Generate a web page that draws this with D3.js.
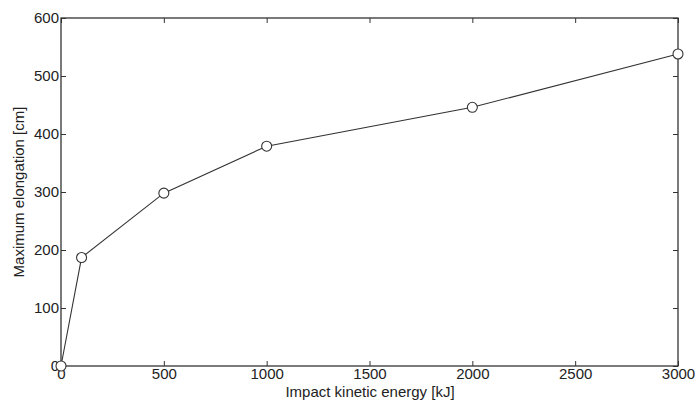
<!DOCTYPE html>
<html><head><meta charset="utf-8">
<script src="https://cdn.jsdelivr.net/npm/d3@7"></script>
<style>body{margin:0;background:#fff}svg{display:block}text{font-family:"Liberation Sans",Arial,sans-serif}</style>
</head><body><svg id="c" width="695" height="401"></svg>
<script>
const energy = [0, 100, 500, 1000, 2000, 3000];
const elongation = [0, 187, 298, 379, 446, 538];
const xTicks = [0, 500, 1000, 1500, 2000, 2500, 3000];
const yTicks = [0, 100, 200, 300, 400, 500, 600];
const xLabel = "Impact kinetic energy [kJ]";
const yLabel = "Maximum elongation [cm]";

const svg = d3.select("#c");
const L = 61, R = 678, T = 18, B = 366;
const x = d3.scaleLinear().domain([0, 3000]).range([L, R]);
const y = d3.scaleLinear().domain([0, 600]).range([B, T]);
const col = "#333";
const fs = 15;

svg.append("g").attr("transform", `translate(0,${B})`)
  .call(d3.axisBottom(x).tickValues(xTicks).tickFormat(d3.format("d")).tickSizeInner(-5).tickSizeOuter(0).tickPadding(2))
  .call(g => { g.select(".domain").remove(); g.selectAll("line").attr("stroke", col);
    g.selectAll("text").attr("font-size", fs).attr("fill", "#222"); });
svg.append("g").attr("transform", `translate(0,${T})`)
  .call(d3.axisTop(x).tickValues(xTicks).tickSizeInner(-5).tickSizeOuter(0).tickFormat(""))
  .call(g => { g.select(".domain").remove(); g.selectAll("line").attr("stroke", col); });
svg.append("g").attr("transform", `translate(${L},0)`)
  .call(d3.axisLeft(y).tickValues(yTicks).tickFormat(d3.format("d")).tickSizeInner(-5).tickSizeOuter(0).tickPadding(2))
  .call(g => { g.select(".domain").remove(); g.selectAll("line").attr("stroke", col);
    g.selectAll("text").attr("font-size", fs).attr("fill", "#222"); });
svg.append("g").attr("transform", `translate(${R},0)`)
  .call(d3.axisRight(y).tickValues(yTicks).tickSizeInner(-5).tickSizeOuter(0).tickFormat(""))
  .call(g => { g.select(".domain").remove(); g.selectAll("line").attr("stroke", col); });

svg.append("rect").attr("x", L).attr("y", T).attr("width", R - L).attr("height", B - T)
  .attr("fill", "none").attr("stroke", col).attr("stroke-width", 1.3);

const pts = energy.map((e, i) => [e, elongation[i]]);
svg.append("path").datum(pts)
  .attr("d", d3.line().x(d => x(d[0])).y(d => y(d[1])))
  .attr("fill", "none").attr("stroke", col).attr("stroke-width", 1.1);
svg.selectAll("circle.m").data(pts).enter().append("circle")
  .attr("cx", d => x(d[0])).attr("cy", d => y(d[1])).attr("r", 5)
  .attr("fill", "#fff").attr("stroke", col).attr("stroke-width", 1.1);

svg.append("text").attr("x", 370).attr("y", 397).attr("text-anchor", "middle")
  .attr("font-size", fs).attr("fill", "#222").text(xLabel);
svg.append("text").attr("transform", `translate(24,192) rotate(-90)`)
  .attr("text-anchor", "middle").attr("font-size", fs).attr("fill", "#222").text(yLabel);
</script></body></html>
